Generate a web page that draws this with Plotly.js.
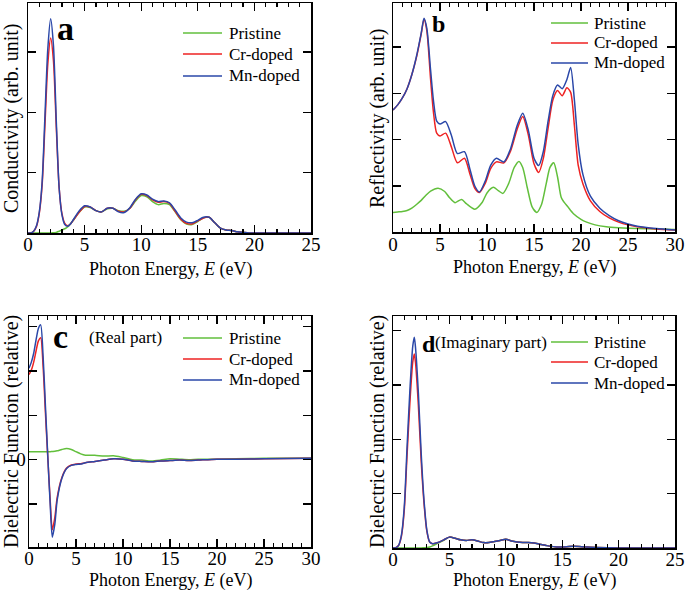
<!DOCTYPE html>
<html>
<head>
<meta charset="utf-8">
<script src="https://cdn.plot.ly/plotly-3.0.1.min.js"></script>
<style>html,body{margin:0;padding:0;background:#fff;}#chart{width:685px;height:590px;}</style>
</head>
<body>
<div id="chart"></div>
<script>
// ---------- Data ----------
const seriesNames = ["Pristine", "Cr-doped", "Mn-doped"];

// Panel a: Conductivity
const xA = [0,0.25,0.5,0.75,1,1.25,1.5,1.75,2,2.25,2.5,2.75,3,3.25,3.5,3.75,4,4.5,5,5.5,6,6.5,7,7.5,8,8.5,9,9.5,10,10.5,11,11.5,12,12.5,13,13.5,14,14.5,15,15.5,16,16.5,17,17.5,18,18.5,19,19.5,20,22,25];
const condPristine = [0,0,0,0,0,0,0,0,0,0.005,0.01,0.03,0.05,0.07,0.1,0.15,0.21,0.34,0.43,0.42,0.37,0.35,0.4,0.41,0.37,0.36,0.41,0.53,0.62,0.6,0.52,0.47,0.49,0.47,0.35,0.22,0.15,0.14,0.19,0.25,0.26,0.17,0.08,0.05,0.04,0.02,0.01,0,0,0,0];
const condCr = [0,0,0.03,0.11,0.33,0.8,1.8,2.8,3.23,2.85,1.75,0.75,0.32,0.16,0.12,0.15,0.21,0.34,0.44,0.43,0.37,0.35,0.41,0.41,0.36,0.35,0.41,0.55,0.64,0.62,0.55,0.51,0.52,0.49,0.36,0.23,0.16,0.15,0.2,0.25,0.26,0.17,0.08,0.05,0.04,0.02,0.01,0,0,0,0];
const condMn = [0,0,0.03,0.12,0.35,0.85,1.95,3.05,3.55,3.1,1.85,0.75,0.3,0.14,0.11,0.15,0.22,0.36,0.45,0.43,0.37,0.35,0.41,0.41,0.35,0.34,0.42,0.56,0.65,0.63,0.56,0.52,0.53,0.5,0.38,0.25,0.18,0.17,0.21,0.26,0.26,0.17,0.08,0.05,0.04,0.02,0.01,0,0,0,0];

// Panel b: Reflectivity
const xB = [0,0.5,1,1.5,2,2.5,3,3.3,3.6,4,4.3,4.65,5,5.6,6.2,6.85,7.6,8.2,8.7,9.2,9.8,10.4,11,11.8,12.5,13.2,13.8,14.4,15,15.5,16,16.5,17,17.5,18,18.5,18.9,19.3,19.7,20.2,21,22,23,24,25,26,28,30];
const reflCr = [2.64,2.75,2.9,3.1,3.4,3.78,4.28,4.6,4.35,3.3,2.6,2.14,2.08,2.14,1.85,1.5,1.6,1.25,0.95,0.86,1.05,1.38,1.52,1.5,1.75,2.22,2.5,2.1,1.48,1.29,1.6,2.25,2.85,3.06,2.95,3.12,3.02,2.3,1.45,1.05,0.68,0.45,0.31,0.22,0.16,0.12,0.07,0.05];
const reflMn = [2.64,2.75,2.9,3.1,3.4,3.8,4.3,4.62,4.4,3.5,2.85,2.4,2.34,2.39,2.1,1.7,1.74,1.35,1.0,0.87,1.1,1.45,1.6,1.52,1.8,2.3,2.57,2.2,1.6,1.44,1.75,2.4,2.95,3.18,3.1,3.3,3.56,2.85,1.9,1.25,0.78,0.52,0.36,0.25,0.18,0.13,0.08,0.05];
const xBPristine = [0,0.5,1,1.5,2,2.5,3,3.5,4,4.8,5.5,6,6.6,7.3,7.8,8.7,9.5,10,10.67,11.2,11.7,12.3,12.9,13.4,13.8,14.3,14.8,15.3,15.8,16.3,16.7,17.1,17.5,17.9,18.2,18.6,19.2,20,20.6,21.5,22.7,24,26,28,30];
const reflPristine = [0.43,0.44,0.45,0.47,0.52,0.6,0.69,0.8,0.89,0.95,0.88,0.75,0.64,0.71,0.62,0.5,0.65,0.85,0.97,0.9,0.84,1.05,1.4,1.53,1.4,0.95,0.55,0.43,0.6,1.05,1.4,1.5,1.2,0.75,0.65,0.55,0.4,0.28,0.22,0.16,0.12,0.1,0.08,0.07,0.06];

// Panel c: Dielectric function, real part
const xC = [0,0.25,0.5,0.75,1,1.24,1.5,1.75,2,2.25,2.48,2.75,3,3.5,4,4.5,5,5.5,6,7,8,9,10,11,12,13,14,15,16,17,18,20,22,25,30];
const realPristine = [0.18,0.18,0.18,0.18,0.18,0.18,0.18,0.18,0.18,0.18,0.185,0.19,0.2,0.23,0.25,0.23,0.18,0.13,0.1,0.1,0.08,0.09,0.05,0,-0.01,-0.03,-0.01,0.02,0.01,0,0.01,0.01,0.02,0.03,0.03];
const realCr = [1.92,2.02,2.2,2.45,2.68,2.75,2.1,1.05,0.05,-0.9,-1.58,-1.3,-0.85,-0.4,-0.19,-0.12,-0.1,-0.09,-0.07,-0.04,-0.01,0.02,0.01,-0.03,-0.04,-0.05,-0.03,-0.02,-0.01,-0.02,-0.01,0.01,0.01,0.02,0.03];
const realMn = [2.06,2.2,2.4,2.7,2.96,3.04,2.33,1.2,0.07,-0.99,-1.75,-1.45,-0.91,-0.42,-0.2,-0.13,-0.11,-0.1,-0.07,-0.04,-0.01,0.02,0.01,-0.03,-0.04,-0.05,-0.03,-0.02,-0.01,-0.02,-0.01,0.01,0.01,0.02,0.03];

// Panel d: Dielectric function, imaginary part
const xD = [0,0.25,0.5,0.75,1,1.25,1.5,1.75,1.89,2,2.25,2.5,2.75,3,3.25,3.5,4,4.5,5,5.5,6,6.5,7,7.5,8,8.5,9,9.5,10,10.5,11,11.5,12,12.5,13,13.5,14,14.5,15,16,17,18,20,25];
const imagPristine = [0,0,0,0,0,0,0,0,0,0,0,0,0.005,0.01,0.02,0.04,0.09,0.14,0.2,0.18,0.15,0.14,0.15,0.13,0.1,0.1,0.12,0.14,0.16,0.13,0.11,0.1,0.1,0.09,0.07,0.05,0.03,0.02,0.02,0.03,0.02,0.01,0,0];
const imagCr = [0,0.005,0.05,0.22,0.7,1.72,2.68,3.42,3.57,3.4,2.62,1.6,0.82,0.31,0.11,0.08,0.1,0.15,0.2,0.18,0.15,0.14,0.15,0.13,0.1,0.1,0.12,0.14,0.16,0.13,0.11,0.1,0.1,0.09,0.07,0.05,0.03,0.02,0.02,0.03,0.02,0.01,0,0];
const imagMn = [0,0.005,0.05,0.24,0.76,1.87,2.91,3.71,3.88,3.68,2.85,1.74,0.88,0.33,0.11,0.08,0.1,0.15,0.2,0.18,0.15,0.14,0.15,0.13,0.1,0.1,0.12,0.14,0.16,0.13,0.11,0.1,0.1,0.09,0.07,0.05,0.03,0.02,0.02,0.03,0.02,0.01,0,0];

// ---------- Styling ----------
const colors = ["#62bf3c", "#ee2222", "#2a47a8"];
const FONT = "Liberation Serif, Times New Roman, serif";
const W = 685, H = 590;
const px = v => v / W;
const py = v => 1 - v / H;

function tr(x, y, i, xa, ya) {
  return {
    x: x, y: y, type: "scatter", mode: "lines",
    name: seriesNames[i], xaxis: xa, yaxis: ya, showlegend: false,
    line: {color: colors[i], width: 1.5, shape: "spline", smoothing: 0.7}
  };
}

const data = [
  tr(xA, condPristine, 0, "x", "y"),
  tr(xA, condCr, 1, "x", "y"),
  tr(xA, condMn, 2, "x", "y"),
  tr(xBPristine, reflPristine, 0, "x2", "y2"),
  tr(xB, reflCr, 1, "x2", "y2"),
  tr(xB, reflMn, 2, "x2", "y2"),
  tr(xC, realPristine, 0, "x3", "y3"),
  tr(xC, realCr, 1, "x3", "y3"),
  tr(xC, realMn, 2, "x3", "y3"),
  tr(xD, imagPristine, 0, "x4", "y4"),
  tr(xD, imagCr, 1, "x4", "y4"),
  tr(xD, imagMn, 2, "x4", "y4")
];

function xaxis(domain, range, anchor) {
  return {
    domain: domain, range: range, anchor: anchor,
    tickmode: "linear", tick0: 0, dtick: 5,
    ticks: "inside", ticklen: 8, tickwidth: 1.3, tickcolor: "#000",
    minor: {dtick: 1, ticks: "inside", ticklen: 4, tickwidth: 1.2, tickcolor: "#000"},
    showline: true, linecolor: "#000", linewidth: 1.5, mirror: "ticks",
    showgrid: false, zeroline: false, ticklabelstandoff: -6,
    tickfont: {family: FONT, size: 19, color: "#000"}
  };
}
function yaxis(domain, range, anchor, tickvals, ticktext) {
  return {
    domain: domain, range: range, anchor: anchor,
    tickmode: "array", tickvals: tickvals, ticktext: ticktext,
    showticklabels: !!ticktext,
    ticks: "inside", ticklen: 8, tickwidth: 1.3, tickcolor: "#000",
    showline: true, linecolor: "#000", linewidth: 1.5, mirror: "ticks",
    showgrid: false, zeroline: false, ticklabelstandoff: -2,
    tickfont: {family: FONT, size: 19, color: "#000"}
  };
}

function ann(text, xPix, yPix, size, opts) {
  return Object.assign({
    text: text, x: px(xPix), y: py(yPix), xref: "paper", yref: "paper",
    xanchor: "center", yanchor: "middle", showarrow: false,
    font: {family: FONT, size: size, color: "#000"}
  }, opts || {});
}

// manual legends: line samples + labels
const legendSpecs = [
  {x0: 183, x1: 222, tx: 227, rows: [33, 54, 76]},
  {x0: 551, x1: 588, tx: 592, rows: [23, 43, 63]},
  {x0: 183, x1: 222, tx: 227, rows: [338, 359, 380]},
  {x0: 551, x1: 588, tx: 592, rows: [342, 362, 383]}
];
const shapes = [];
const legendAnns = [];
legendSpecs.forEach(s => {
  s.rows.forEach((r, i) => {
    shapes.push({type: "line", xref: "paper", yref: "paper",
      x0: px(s.x0), x1: px(s.x1), y0: py(r), y1: py(r),
      line: {color: colors[i], width: 1.5}});
    legendAnns.push(ann(seriesNames[i], s.tx, r, 17, {xanchor: "left"}));
  });
});

const xTitle = "Photon Energy, <i>E</i> (eV)";

const layout = {
  width: W, height: H, autosize: false,
  margin: {l: 0, r: 0, t: 0, b: 0, pad: 0},
  paper_bgcolor: "#fff", plot_bgcolor: "#fff",
  showlegend: false,
  xaxis: xaxis([px(28), px(311)], [0, 25], "y"),
  yaxis: yaxis([py(233), py(3)], [0, 3.81], "x", [1, 2, 3], null),
  xaxis2: xaxis([px(393), px(675)], [0, 30], "y2"),
  yaxis2: yaxis([py(232.3), py(3)], [0, 4.95], "x2", [1, 2, 3, 4], null),
  xaxis3: xaxis([px(29), px(311)], [0, 30], "y3"),
  yaxis3: yaxis([py(547), py(316)], [-1.97, 3.24], "x3", [-1, 0, 1, 2, 3], ["", "0", "", "", ""]),
  xaxis4: xaxis([px(393), px(675)], [0, 25], "y4"),
  yaxis4: yaxis([py(548), py(316)], [0, 4.27], "x4", [1, 2, 3, 4], null),
  shapes: shapes,
  annotations: [
    ann("<b>a</b>", 65, 28, 34),
    ann("<b>b</b>", 439, 24, 24),
    ann("<b>c</b>", 60, 336, 34),
    ann("<b>d</b>", 429, 344, 24),
    ann("(Real part)", 125, 337, 17),
    ann("(Imaginary part)", 491, 342, 17),
    ann("Conductivity (arb. unit)", 11, 119, 20, {textangle: -90}),
    ann("Reflectivity (arb. unit)", 377, 119, 20, {textangle: -90}),
    ann("Dielectric Function (relative)", 11, 432, 20, {textangle: -90}),
    ann("Dielectric Function (relative)", 377, 432, 20, {textangle: -90}),
    ann(xTitle, 170, 269, 18),
    ann(xTitle, 534, 267, 18),
    ann(xTitle, 170, 580, 18),
    ann(xTitle, 534, 580, 18)
  ].concat(legendAnns)
};

Plotly.newPlot("chart", data, layout, {staticPlot: true, displayModeBar: false});
</script>
</body>
</html>
